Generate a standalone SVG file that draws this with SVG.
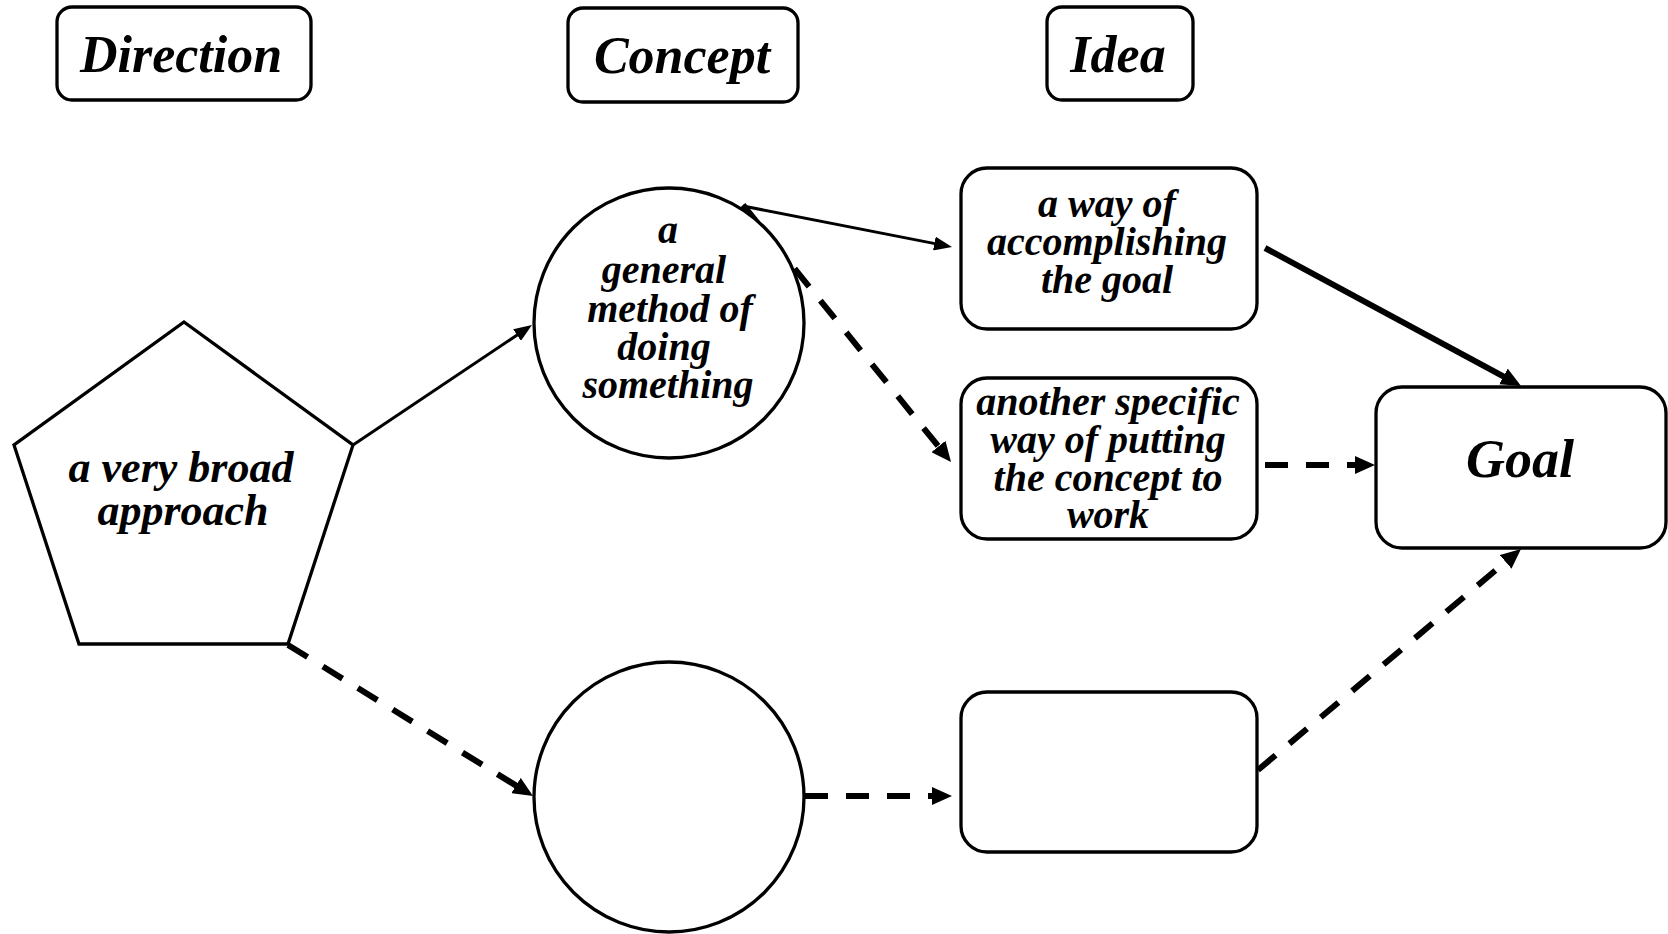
<svg xmlns="http://www.w3.org/2000/svg" width="1668" height="934" viewBox="0 0 1668 934">
<style>
.n{fill:#fff;stroke:#000;stroke-width:3.3}
.t{font-family:"Liberation Serif","Times New Roman",serif;font-weight:bold;font-style:italic;fill:#000;text-anchor:middle}
.h{font-size:52px}
.b{font-size:40px}
.c{fill:none;stroke:#000}
.s{stroke-width:3}
.k{stroke-width:6}
.d{stroke-width:6;stroke-dasharray:23 18}
</style>
<defs>
<marker id="ah" markerUnits="userSpaceOnUse" markerWidth="18" markerHeight="14" refX="2" refY="7" orient="auto">
<path d="M0,0 L18,7 L0,14 z" fill="#000"/>
</marker>
<marker id="ahb" markerUnits="userSpaceOnUse" markerWidth="20" markerHeight="18" refX="2" refY="9" orient="auto">
<path d="M0,0 L20,9 L0,18 z" fill="#000"/>
</marker>
</defs>
<rect width="1668" height="934" fill="#fff"/>
<g id="hdr-direction"><rect class="n" x="57" y="7" width="254" height="93" rx="15"/><text class="t h" x="181" y="72">Direction</text></g>
<g id="hdr-concept"><rect class="n" x="568" y="8" width="230" height="94" rx="15"/><text class="t h" x="682" y="73">Concept</text></g>
<g id="hdr-idea"><rect class="n" x="1047" y="7" width="146" height="93" rx="15"/><text class="t h" x="1118" y="72">Idea</text></g>
<g id="connectors">
<line class="c s" x1="353" y1="445" x2="518.7" y2="333.9" marker-end="url(#ah)"/>
<line class="c s" x1="743" y1="206" x2="936.3" y2="243.9" marker-end="url(#ah)"/>
<line class="c d" x1="743" y1="205" x2="939.7" y2="448.0" marker-end="url(#ahb)"/>
<line class="c k" x1="1265" y1="248" x2="1505.2" y2="377.4" marker-end="url(#ahb)"/>
<line class="c d" x1="1265" y1="465" x2="1357" y2="465" marker-end="url(#ahb)"/>
<line class="c d" x1="288" y1="645" x2="517.7" y2="786.6" marker-end="url(#ahb)"/>
<line class="c d" x1="805" y1="796" x2="934" y2="796" marker-end="url(#ahb)"/>
<line class="c d" x1="1258" y1="770" x2="1507.2" y2="560.6" marker-end="url(#ahb)"/>
</g>
<g id="direction"><polygon class="n" points="184,322 353,445 288,644 79,644 14,445"/><text class="t" font-size="44" x="181" y="482">a very broad</text><text class="t" font-size="44" x="183" y="525">approach</text></g>
<g id="concept1"><circle class="n" cx="669" cy="323" r="135"/>
<text class="t b" x="668" y="243">a</text><text class="t b" x="664" y="283">general</text><text class="t b" x="670" y="322">method of</text><text class="t b" x="664" y="360">doing</text><text class="t b" x="668" y="398">something</text></g>
<g id="concept2"><circle class="n" cx="669" cy="797" r="135"/></g>
<g id="idea1"><rect class="n" x="961" y="168" width="296" height="161" rx="26"/><text class="t b" x="1107" y="217">a way of</text><text class="t b" x="1107" y="255">accomplishing</text><text class="t b" x="1107" y="293">the goal</text></g>
<g id="idea2"><rect class="n" x="961" y="378" width="296" height="161" rx="26"/><text class="t b" x="1108" y="415">another specific</text><text class="t b" x="1108" y="453">way of putting</text><text class="t b" x="1108" y="491">the concept to</text><text class="t b" x="1108" y="528">work</text></g>
<g id="idea3"><rect class="n" x="961" y="692" width="296" height="160" rx="26"/></g>
<g id="goal"><rect class="n" x="1376" y="387" width="290" height="161" rx="26"/><text class="t" font-size="54" x="1520" y="477">Goal</text></g>
</svg>
